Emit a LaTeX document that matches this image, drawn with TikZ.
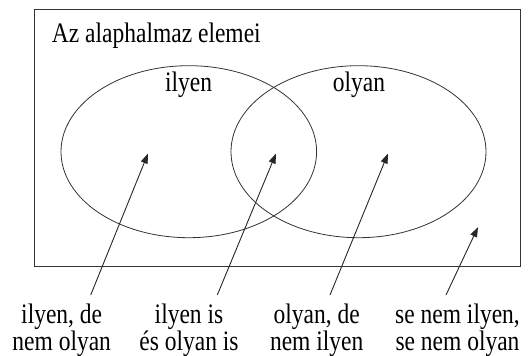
\documentclass[tikz,border=0pt]{standalone}
\usepackage{fontspec}
\setmainfont{Liberation Serif}
\usetikzlibrary{arrows.meta}
\newcommand{\tallt}[1]{\scalebox{1}[1.2]{#1}}
\newcommand{\tallpair}[2]{\scalebox{1}[1.2]{\begin{tabular}[t]{@{}c@{}}#1\\#2\end{tabular}}}
\begin{document}
\begin{tikzpicture}[x=1pt,y=-1pt,
  line width=0.8pt,
  setline/.style={draw=black!80},
  pointer/.style={draw=black!85,line width=0.9pt,-{Triangle[length=10pt,width=7pt]}},
  lbl/.style={font=\fontsize{23.5}{21}\selectfont,inner sep=0pt,anchor=base},
  ttl/.style={font=\fontsize{23.5}{27}\selectfont,inner sep=0pt,anchor=base}]
\useasboundingbox (0,0) rectangle (528,356);
\node[draw=black!80,minimum width=486pt,minimum height=256.7pt,inner sep=0pt,line width=0.9pt] (U) at (277,137.65) {};
\draw[setline] (188.8,151.7) ellipse [x radius=127.8, y radius=86];
\draw[setline] (358.5,151.7) ellipse [x radius=127.5, y radius=86];
\node[ttl,anchor=base west] (title) at (51.5,42) {\tallt{Az alaphalmaz elemei}};
\node[ttl] (ilyen) at (188.5,91) {\tallt{ilyen}};
\node[ttl] (olyan) at (359,91) {\tallt{olyan}};
\coordinate (t1) at (148,153.5);
\coordinate (t2) at (276,153.5);
\coordinate (t3) at (388,153.5);
\coordinate (t4) at (478,227);
\node[lbl] (l1) at (61.7,323.5) {\tallpair{ilyen, de}{nem olyan}};
\node[lbl] (l2) at (189,323.5) {\tallpair{ilyen is}{és olyan is}};
\node[lbl] (l3) at (316.7,323.5) {\tallpair{olyan, de}{nem ilyen}};
\node[lbl] (l4) at (457.5,323.5) {\tallpair{se nem ilyen,}{se nem olyan}};
\coordinate (s1) at (90.7,295);
\coordinate (s2) at (217.3,295);
\coordinate (s3) at (330,295);
\coordinate (s4) at (446,295);
\draw[pointer] (s1) -- (t1);
\draw[pointer] (s2) -- (t2);
\draw[pointer] (s3) -- (t3);
\draw[pointer] (s4) -- (t4);
\end{tikzpicture}
\end{document}
